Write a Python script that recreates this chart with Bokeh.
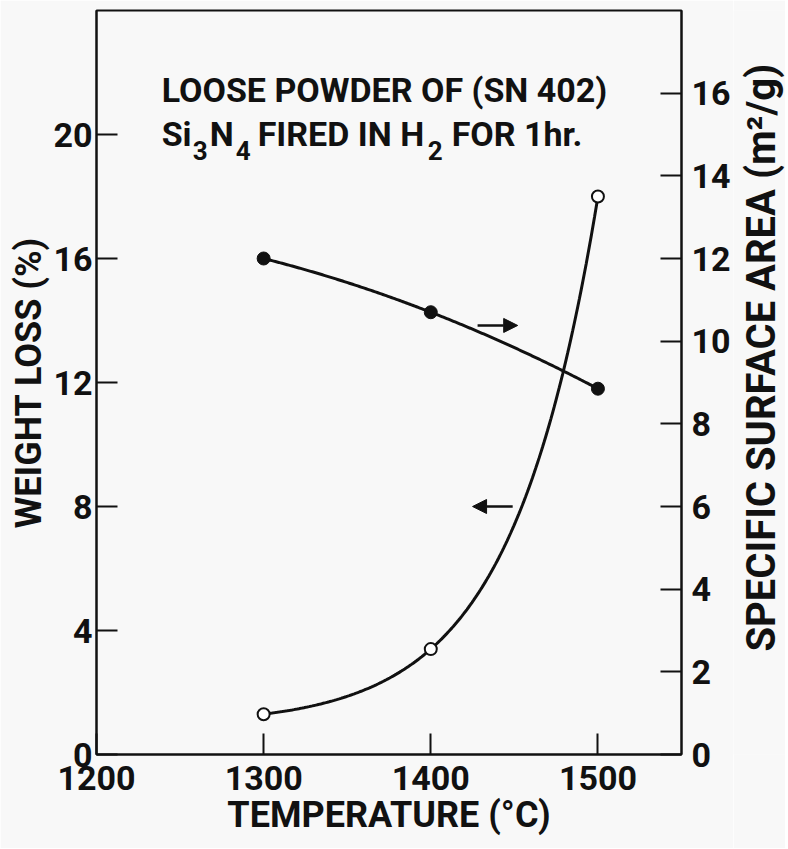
import numpy as np
from bokeh.plotting import figure
from bokeh.layouts import row
from bokeh.models import Range1d, LinearAxis, FixedTicker, Arrow, NormalHead, Label
from bokeh.core.properties import value
from bokeh.embed import file_html
from bokeh.resources import INLINE

# ---- data ----
temperature = [1300, 1400, 1500]          # deg C
weight_loss = [1.3, 3.4, 18.0]            # % (left axis, open circles)
surface_area = [12.0, 10.7, 8.85]         # m2/g (right axis, filled circles)

x_ticks = [1200, 1300, 1400, 1500]
left_ticks = [0, 4, 8, 12, 16, 20]
right_ticks = [0, 2, 4, 6, 8, 10, 12, 14, 16]

# arrows: (x_start, x_end, y)
arrow_area = (1428, 1452, 10.38)          # points to right axis
arrow_weight = (1449, 1425, 8.0)          # points to left axis

INK = "#111111"
BG = "#f8f8f8"
FONT = "Roboto"

right_range = Range1d(0, 18)

p = figure(frame_width=585, frame_height=744,
           x_range=Range1d(1200, 1550), y_range=Range1d(0, 24),
           output_backend="svg", toolbar_location=None,
           background_fill_color=BG, border_fill_color=BG,
           min_border_left=96, min_border_top=10, min_border_right=52, min_border_bottom=94)
p.extra_y_ranges = {"right": right_range}
p.grid.visible = False
p.outline_line_color = INK
p.outline_line_width = 2

def style_axis(ax, standoff, label_size="36px"):
    ax.axis_line_color = INK
    ax.axis_line_width = 2
    ax.major_tick_line_color = INK
    ax.major_tick_line_width = 2
    ax.major_tick_in = 21
    ax.major_tick_out = 0
    ax.minor_tick_line_color = None
    ax.major_label_text_font = FONT
    ax.major_label_text_font_style = "bold"
    ax.major_label_text_font_size = "34px"
    ax.major_label_text_color = INK
    ax.major_label_standoff = standoff
    ax.axis_label_text_font = FONT
    ax.axis_label_text_font_style = "bold"
    ax.axis_label_text_font_size = label_size
    ax.axis_label_text_color = INK

xa = p.xaxis[0]
xa.ticker = FixedTicker(ticks=x_ticks)
xa.axis_label = "TEMPERATURE (°C)"
style_axis(xa, 11)
xa.axis_label_standoff = 1

ya = p.yaxis[0]
ya.ticker = FixedTicker(ticks=left_ticks)
ya.axis_label = "WEIGHT LOSS (%)"
style_axis(ya, 4)
ya.axis_label_standoff = 0

ra = LinearAxis(y_range_name="right", ticker=FixedTicker(ticks=right_ticks))
style_axis(ra, 10)
p.add_layout(ra, "right")

# ---- smooth curves drawn through the measured points ----
xs = np.linspace(temperature[0], temperature[-1], 200)
t = (xs - temperature[0]) / (temperature[1] - temperature[0])
y0, y1, y2 = weight_loss
r = (y2 - y1) / (y1 - y0)
b = (y1 - y0) / (r - 1)
a = y0 - b
weight_curve = a + b * r ** t
coef = np.polyfit(temperature, surface_area, 2)
area_curve = np.polyval(coef, xs)

p.line(xs, area_curve, line_color=INK, line_width=3, y_range_name="right")
p.line(xs, weight_curve, line_color=INK, line_width=3)
p.scatter(temperature, surface_area, y_range_name="right", size=13,
          fill_color=INK, line_color=INK)
p.scatter(temperature, weight_loss, size=12, fill_color="white",
          line_color=INK, line_width=2)

p.add_layout(Arrow(end=NormalHead(size=14, fill_color=INK, line_color=INK),
                   x_start=arrow_area[0], x_end=arrow_area[1],
                   y_start=arrow_area[2], y_end=arrow_area[2],
                   y_range_name="right", line_color=INK, line_width=2.5))
p.add_layout(Arrow(end=NormalHead(size=14, fill_color=INK, line_color=INK),
                   x_start=arrow_weight[0], x_end=arrow_weight[1],
                   y_start=arrow_weight[2], y_end=arrow_weight[2],
                   line_color=INK, line_width=2.5))

# ---- annotation text ----
def lab(text, x, y, size, dx=0):
    p.add_layout(Label(x=x, y=y, x_offset=dx, text=text, text_font=FONT,
                       text_font_style="bold", text_font_size=size,
                       text_color=INK, text_baseline="alphabetic"))

X0 = 1239
lab("LOOSE POWDER OF (SN 402)", X0, 21.42, "34px")
base, sub = 20.03, 19.48
lab("Si", X0, base, "34px", 0)
lab("3", X0, sub, "26px", 31)
lab("N", X0, base, "34px", 48)
lab("4", X0, sub, "26px", 74)
lab("FIRED IN H", X0, base, "34px", 96)
lab("2", X0, sub, "26px", 266)
lab("FOR 1hr.", X0, base, "34px", 290)

# ---- right-hand axis title (reads bottom-to-top, like the left one) ----
q = figure(frame_width=52, frame_height=744, x_range=Range1d(0, 1), y_range=right_range,
           output_backend="svg", toolbar_location=None,
           background_fill_color=BG, border_fill_color=BG,
           min_border_left=0, min_border_right=0, min_border_top=10, min_border_bottom=94)
q.axis.visible = False
q.grid.visible = False
q.outline_line_color = None
q.text(x=[0.54], y=[9.6], text=["SPECIFIC SURFACE AREA (m²/g)"], angle=float(np.pi / 2),
       text_align="center", text_baseline="middle", text_font=value(FONT),
       text_font_style="bold", text_font_size="40px", text_color=INK)

layout = row(p, q, spacing=0)
open("out.html", "w").write(file_html(layout, INLINE))
